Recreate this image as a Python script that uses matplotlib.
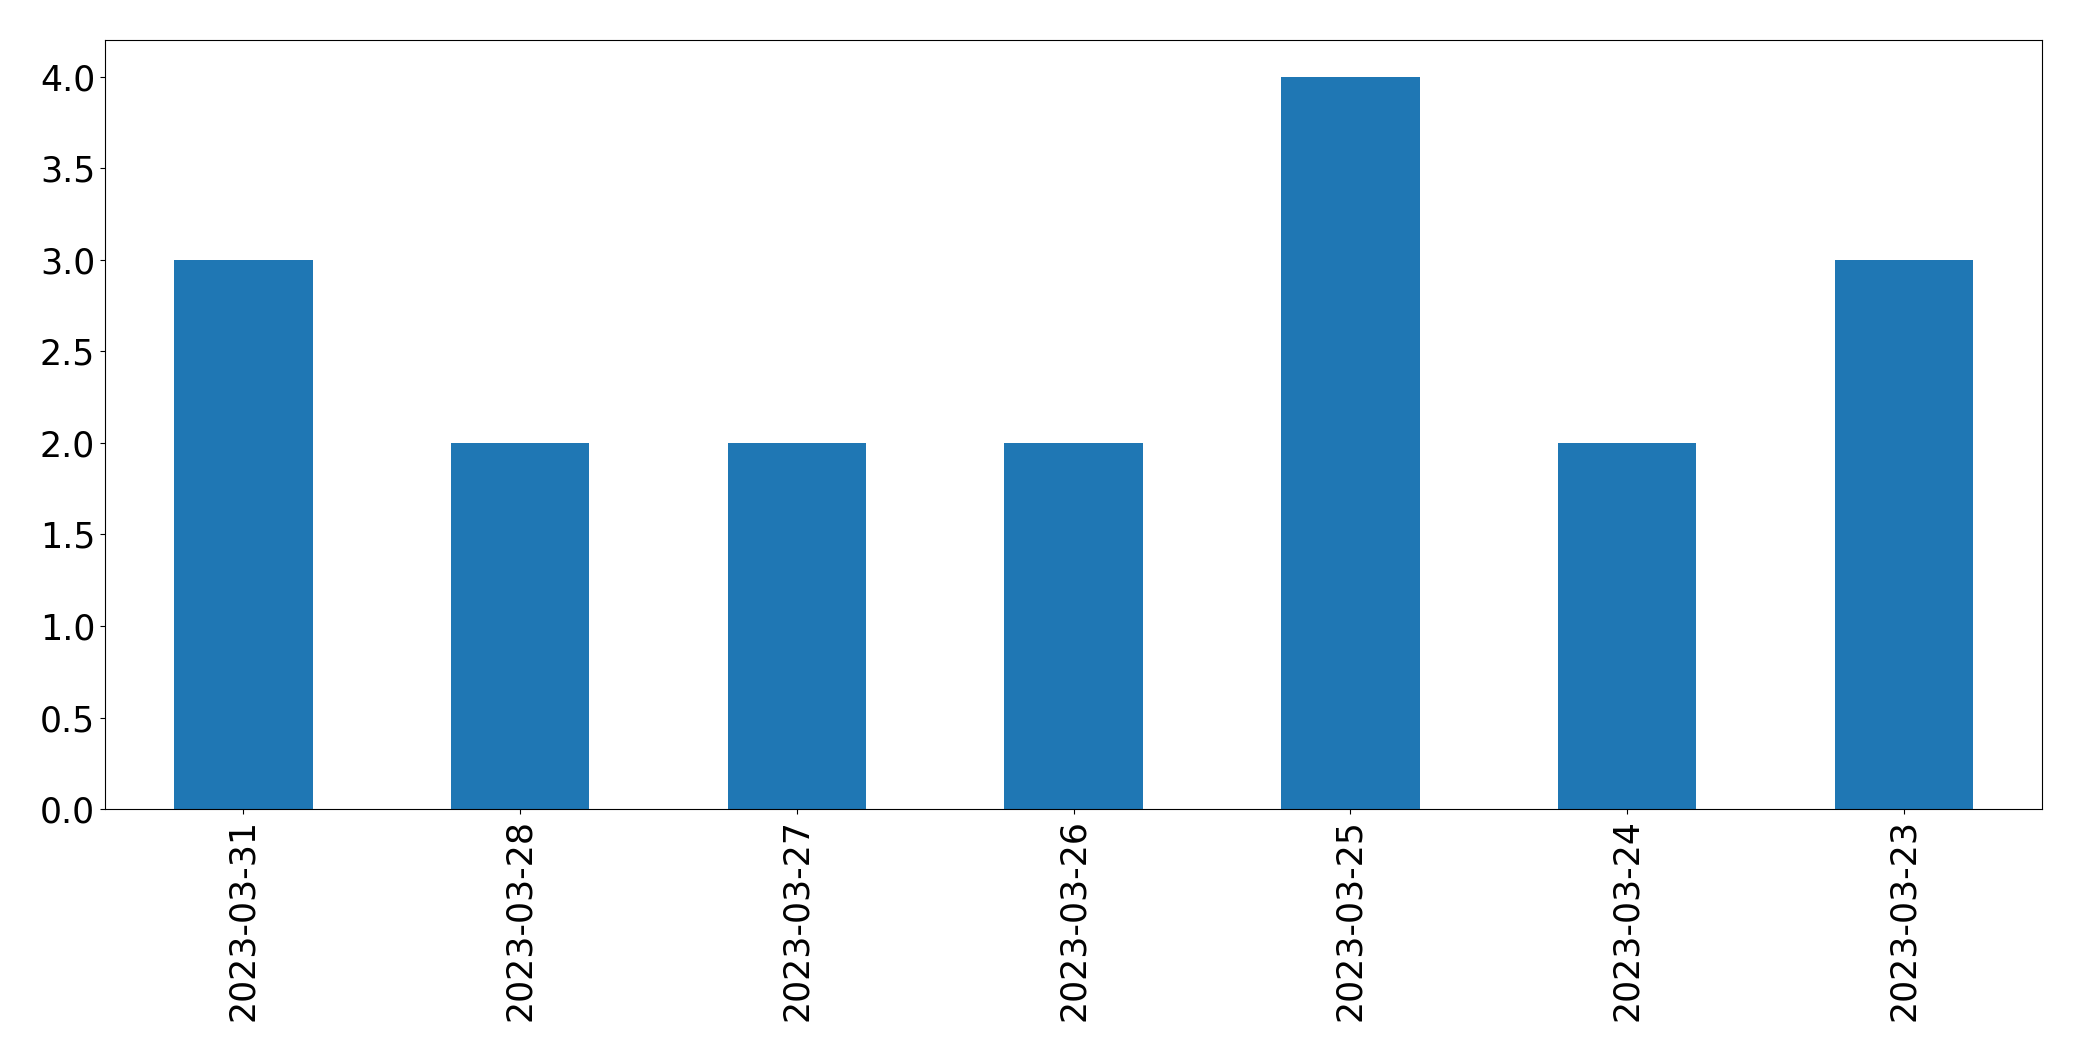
import matplotlib
matplotlib.use("Agg")
import matplotlib.pyplot as plt
import pandas as pd

dates = ["2023-03-31", "2023-03-28", "2023-03-27", "2023-03-26",
         "2023-03-25", "2023-03-24", "2023-03-23"]
counts = [3, 2, 2, 2, 4, 2, 3]

s = pd.Series(counts, index=dates)

fig, ax = plt.subplots(figsize=(20.82, 10.61), dpi=100)
s.plot(kind="bar", ax=ax, color="#1f77b4", fontsize=25)
ax.tick_params(axis="both", labelsize=25)
ax.set_ylim(0, 4.2)
fig.subplots_adjust(left=0.0504, right=0.981, top=0.962, bottom=0.2375)
fig.savefig("out.png", dpi=100)
plt.close(fig)
